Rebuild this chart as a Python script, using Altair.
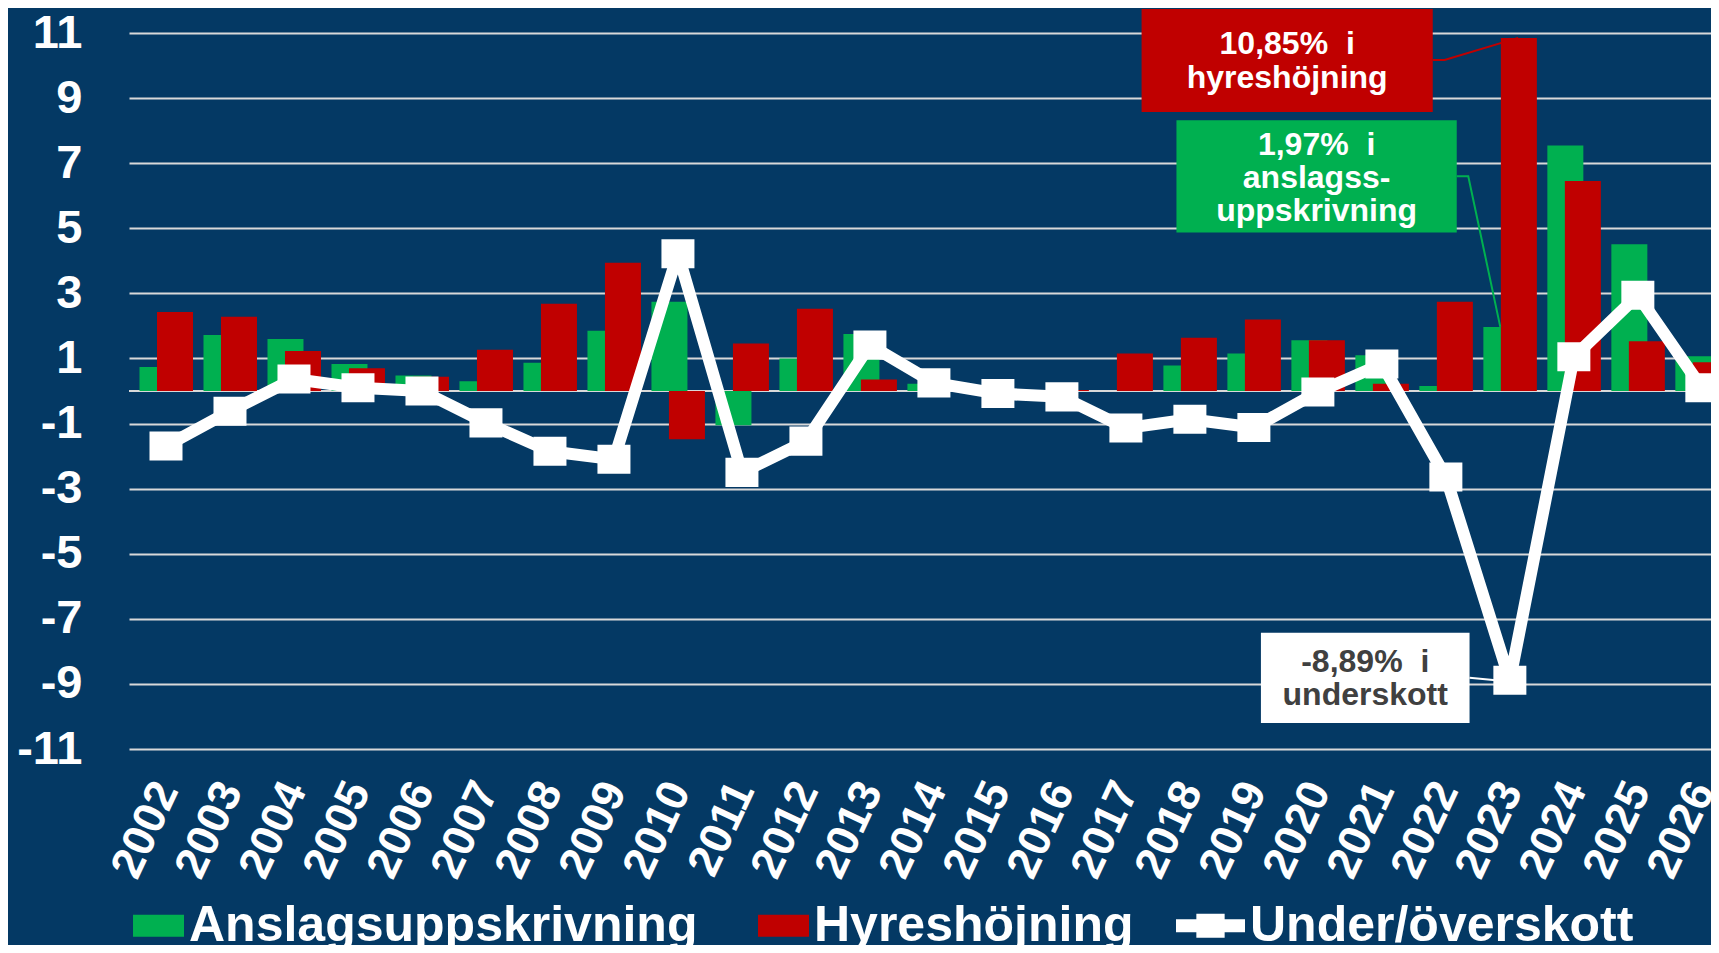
import altair as alt
import pandas as pd

# ---------------- data ----------------
years = list(range(2002, 2027))
anslag = [0.74, 1.72, 1.60, 0.83, 0.48, 0.30, 0.87, 1.85, 2.74, -1.05, 1.00, 1.75, 0.22,
          0.00, 0.00, 0.00, 0.78, 1.15, 1.56, 1.10, 0.15, 1.97, 7.54, 4.51, 1.07]
hyres = [2.43, 2.28, 1.23, 0.70, 0.44, 1.27, 2.68, 3.94, -1.48, 1.46, 2.53, 0.35, 0.00,
         0.00, 0.03, 1.15, 1.64, 2.20, 1.56, 0.22, 2.74, 10.85, 6.45, 1.53, 0.88]
saldo = [-1.69, -0.62, 0.37, 0.10, 0.00, -0.98, -1.85, -2.10, 4.22, -2.50, -1.54, 1.41, 0.25,
         -0.08, -0.18, -1.14, -0.87, -1.12, -0.03, 0.83, -2.64, -8.89, 1.05, 2.94, 0.10]
y_ticks = [-11, -9, -7, -5, -3, -1, 1, 3, 5, 7, 9, 11]
series_names = ["Anslagsuppskrivning", "Hyreshöjning", "Under/överskott"]

GREEN = "#00B050"
RED = "#C00000"
WHITE = "#FFFFFF"
BG = "#043964"
GRID = "#D9D9D9"
FONT = "Liberation Sans"

df = pd.DataFrame({"year": years, "anslag": anslag, "hyres": hyres, "saldo": saldo})

X_DOMAIN = [2001.5, 2026.065]
xs = alt.Scale(domain=X_DOMAIN, nice=False, zero=False)
ys = alt.Scale(domain=[-11, 11], nice=False, zero=False)

x_axis = alt.Axis(values=years, format="d", labelAngle=295, labelAlign="right",
                  labelBaseline="middle", labelFontSize=45, labelFont=FONT,
                  labelFontWeight="bold", labelColor=WHITE, labelPadding=35,
                  ticks=False, domain=False, grid=False, labelOverlap=False,
                  labelFlush=False, title=None)
y_axis = alt.Axis(values=y_ticks, labelExpr="'' + datum.value", labelFontSize=47,
                  labelFont=FONT, labelFontWeight="bold",
                  labelColor=WHITE, labelPadding=47, ticks=False, domain=False,
                  grid=True, gridColor=GRID, gridWidth=2, title=None)

base = alt.Chart(df)

zero_rule = alt.Chart(pd.DataFrame({"v": [0]})).mark_rule(color=GRID, strokeWidth=2).encode(
    y=alt.Y("v:Q", scale=ys, axis=y_axis))

green_bars = base.mark_bar(color=GREEN, width=36, xOffset=-8.5).encode(
    x=alt.X("year:Q", scale=xs, axis=x_axis),
    y=alt.Y("anslag:Q", scale=ys),
    y2=alt.datum(0))

red_bars = base.mark_bar(color=RED, width=36, xOffset=9).encode(
    x=alt.X("year:Q", scale=xs),
    y=alt.Y("hyres:Q", scale=ys),
    y2=alt.datum(0))

line = base.mark_line(color=WHITE, strokeWidth=12, strokeJoin="round").encode(
    x=alt.X("year:Q", scale=xs),
    y=alt.Y("saldo:Q", scale=ys))

MARKER = "M-1,-0.88H1V0.88H-1Z"
points = base.mark_point(shape=MARKER, size=1089, filled=True, color=WHITE, opacity=1).encode(
    x=alt.X("year:Q", scale=xs),
    y=alt.Y("saldo:Q", scale=ys))

# ---------------- annotations (data coordinates) ----------------
def annotation(box, lines_text, leader, fill, text_color, leader_color):
    bx = pd.DataFrame([box])
    rect = alt.Chart(bx).mark_rect(color=fill).encode(
        x=alt.X("x0:Q", scale=xs), x2="x1:Q",
        y=alt.Y("y0:Q", scale=ys), y2="y1:Q")
    ld = pd.DataFrame(leader, columns=["lx", "lv"])
    ld["o"] = range(len(ld))
    lead = alt.Chart(ld).mark_line(color=leader_color, strokeWidth=2).encode(
        x=alt.X("lx:Q", scale=xs), y=alt.Y("lv:Q", scale=ys), order="o:Q")
    tx = pd.DataFrame(lines_text, columns=["tx", "tv", "t"])
    txt = alt.Chart(tx).mark_text(font=FONT, fontWeight="bold", fontSize=32, color=text_color,
                                  align="center", baseline="middle").encode(
        x=alt.X("tx:Q", scale=xs), y=alt.Y("tv:Q", scale=ys), text="t:N")
    return [lead, rect, txt]

ann_red = annotation(
    {"x0": 2017.245, "x1": 2021.795, "y0": 11.74, "y1": 8.57},
    [(2019.52, 10.66, "10,85%\u00a0 i"), (2019.52, 9.61, "hyreshöjning")],
    [(2021.795, 10.17), (2021.98, 10.17), (2023.13, 10.85)],
    RED, WHITE, RED)
ann_green = annotation(
    {"x0": 2017.79, "x1": 2022.17, "y0": 8.32, "y1": 4.87},
    [(2019.98, 7.55, "1,97%\u00a0 i"), (2019.98, 6.53, "anslagss-"), (2019.98, 5.52, "uppskrivning")],
    [(2022.17, 6.6), (2022.35, 6.6), (2022.85, 1.97)],
    GREEN, WHITE, GREEN)
ann_white = annotation(
    {"x0": 2019.11, "x1": 2022.37, "y0": -7.43, "y1": -10.2},
    [(2020.74, -8.32, "-8,89%\u00a0 i"), (2020.74, -9.34, "underskott")],
    [(2022.37, -8.81), (2022.78, -8.89)],
    WHITE, "#404040", WHITE)

# ---------------- legend (invisible layer carrying the legend) ----------------
leg_df = pd.DataFrame({"series": series_names})
RECT_SYM = "M-0.478,-0.32H1V0.32H-0.478Z"
LINE_SYM = "M-1,-0.19H-0.41V-0.35H0.41V-0.19H1V0.19H0.41V0.35H-0.41V0.19H-1Z"
leg_props = dict(title=None, orient="none", legendX=-14, legendY=858,
                 direction="horizontal", symbolSize=4761,
                 symbolOpacity=1, symbolStrokeWidth=0,
                 labelFont=FONT, labelFontWeight="bold",
                 labelFontSize=50, labelColor=WHITE, labelLimit=2000,
                 labelOffset=5, columnPadding=42)
legend_layer = alt.Chart(leg_df).mark_point(filled=True, opacity=0, size=10).encode(
    color=alt.Color("series:N",
                    scale=alt.Scale(domain=series_names, range=[GREEN, RED, WHITE]),
                    sort=None, legend=alt.Legend(**leg_props)),
    shape=alt.Shape("series:N",
                    scale=alt.Scale(domain=series_names, range=[RECT_SYM, RECT_SYM, LINE_SYM]),
                    sort=None, legend=alt.Legend(**leg_props)))

chart = alt.layer(
    zero_rule, green_bars, red_bars, line, points,
    *ann_red, *ann_green, *ann_white,
    legend_layer,
).properties(
    width=1582, height=716,
    padding={"left": 121, "top": 25, "right": 0, "bottom": 196},
    autosize=alt.AutoSizeParams(type="none"),
    background=BG,
).configure_view(stroke=None)

chart.save("out.html", embed_options={"renderer": "svg", "actions": False})
